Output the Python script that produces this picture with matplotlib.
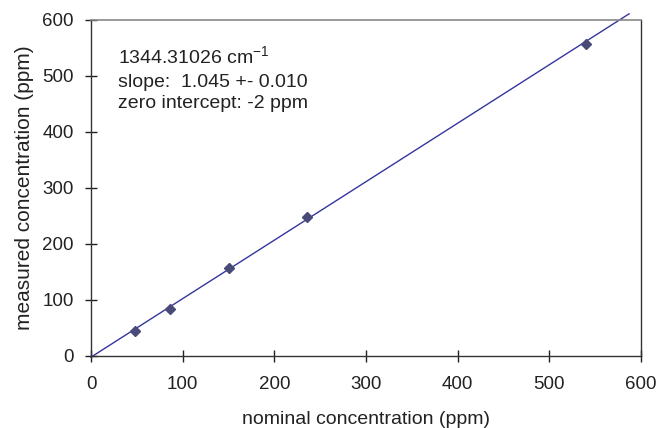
import matplotlib
matplotlib.use("Agg")
import matplotlib.pyplot as plt

nominal = [48, 86.5, 151, 236, 539.5]
measured = [44.6, 84.5, 156.6, 248, 558]
fit_x = [0, 587]
fit_y = [-2, 611]
xticks = [0, 100, 200, 300, 400, 500, 600]
yticks = [0, 100, 200, 300, 400, 500, 600]

plt.rcParams['font.family'] = ['Liberation Sans', 'DejaVu Sans']

fig = plt.figure(figsize=(6.61, 4.28), dpi=100)
ax = fig.add_axes([91/661, 72/428, 550/661, 336/428])

ax.plot(fit_x, fit_y, color='#3535a0', lw=1.0, clip_on=False, zorder=2)
ax.plot(nominal, measured, linestyle='none', marker='D', markersize=5.5,
        color='#4a4a78', zorder=3)

ax.set_xlim(0, 600)
ax.set_ylim(0, 600)
ax.set_xticks(xticks)
ax.set_yticks(yticks)
ax.tick_params(axis='x', direction='inout', length=9, width=1, pad=10,
               labelsize=13.5, colors='#222222')
ax.tick_params(axis='y', direction='inout', length=9, width=1, pad=8,
               labelsize=13.5, colors='#222222')
for s in ['left', 'bottom', 'right']:
    ax.spines[s].set_color('#333333')
    ax.spines[s].set_linewidth(1.0)
ax.spines['top'].set_color('#888888')
ax.spines['top'].set_linewidth(1.2)

ax.set_xlabel('nominal concentration (ppm)', fontsize=14, color='#222222', labelpad=12.5)
ax.set_ylabel('measured concentration (ppm)', fontsize=15, color='#222222', labelpad=6)

ax.text(0.049, 0.868, '1344.31026 cm$^{\\mathregular{-1}}$', transform=ax.transAxes,
        fontsize=14, color='#222222', va='baseline', ha='left')
ax.text(0.049, 0.801, 'slope:  1.045 +- 0.010', transform=ax.transAxes,
        fontsize=14, color='#222222', va='baseline', ha='left')
ax.text(0.049, 0.739, 'zero intercept: -2 ppm', transform=ax.transAxes,
        fontsize=14, color='#222222', va='baseline', ha='left')

fig.savefig('out.png', dpi=100)
